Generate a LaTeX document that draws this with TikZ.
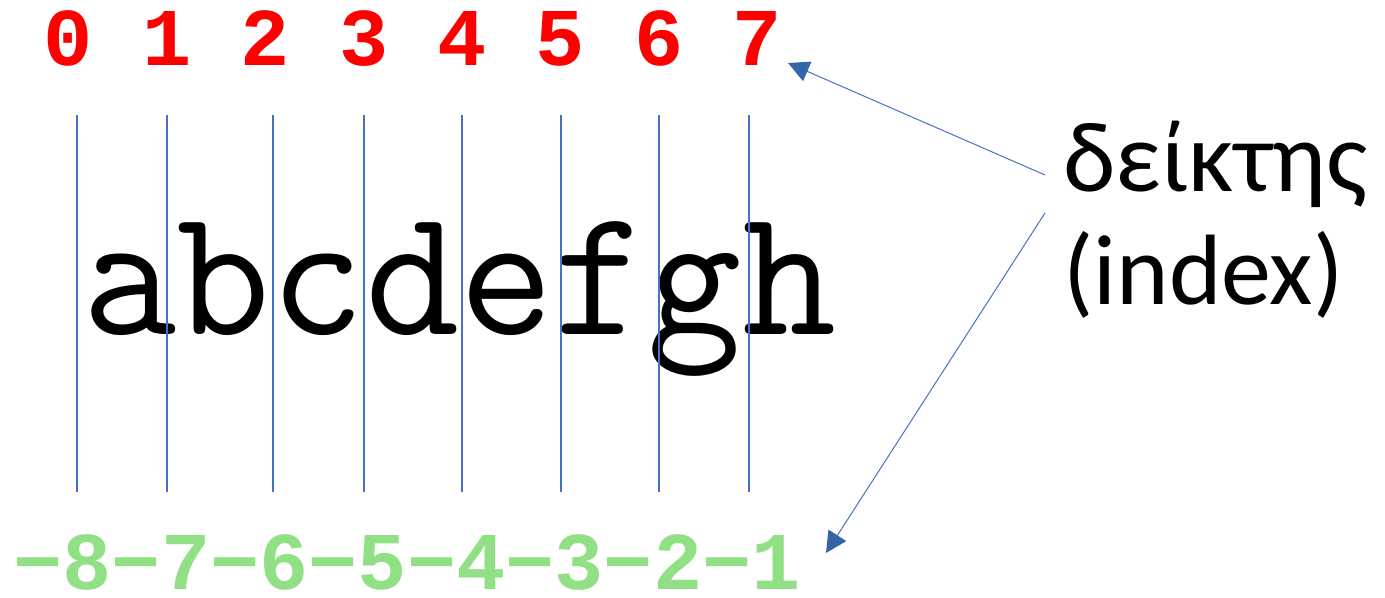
\documentclass[tikz,border=0pt]{standalone}
\usepackage{fontspec}
\usetikzlibrary{arrows.meta, positioning}
\setmainfont{Carlito}
\newfontfamily\monofont{Liberation Mono}
\definecolor{cred}{HTML}{FF0000}
\definecolor{cgreen}{HTML}{92E085}
\definecolor{cline}{HTML}{4472C4}
\definecolor{chead}{HTML}{3465A8}
\tikzset{
  posidx/.style={font=\monofont\bfseries\fontsize{41}{41}\selectfont,
    text=cred, inner sep=0pt, anchor=base west},
  negidx/.style={font=\monofont\bfseries\fontsize{41}{41}\selectfont,
    text=cgreen, inner sep=0pt, anchor=base west},
  chars/.style={font=\ttfamily\fontsize{91.5}{91.5}\selectfont,
    inner sep=0pt, anchor=base west},
  lbl/.style={font=\fontsize{50}{56.5}\selectfont, align=left,
    inner sep=0pt, anchor=base west},
  sep/.style={cline, line width=0.6pt},
  arr/.style={-{Triangle[length=10.5pt,width=10.5pt,color=chead]},
    line width=0.5pt, color=cline},
}
\begin{document}
\begin{tikzpicture}[x=0.5pt, y=-0.5pt]
\useasboundingbox (0,0) rectangle (1385,598);

%% -- indices and string --------------------------------------
\node[posidx] (pos) at (43.5,66) {0 1 2 3 4 5 6 7};
\node[chars] (str) at (82,335) {abcdefgh};
\node[negidx] (neg) at (13,589) {−8−7−6−5−4−3−2−1};

%% -- separators ----------------------------------------------
\draw[sep] (77,115)  -- (77,492);
\draw[sep] (167,115) -- (167,492);
\draw[sep] (273,115) -- (273,492);
\draw[sep] (364,115) -- (364,492);
\draw[sep] (462,115) -- (462,492);
\draw[sep] (561,115) -- (561,492);
\draw[sep] (659,115) -- (659,492);
\draw[sep] (749,115) -- (749,492);

%% -- label ---------------------------------------------------
\node[lbl] (label) at (1063,305) {δείκτης\\(index)};

%% -- arrows --------------------------------------------------
\coordinate (postip) at (788,63);
\coordinate (negtip) at (826,553);
\draw[arr] ([xshift=-9pt, yshift=65pt]label.base west) -- (postip);
\draw[arr] ([xshift=-9pt, yshift=46pt]label.base west) -- (negtip);

\end{tikzpicture}
\end{document}
